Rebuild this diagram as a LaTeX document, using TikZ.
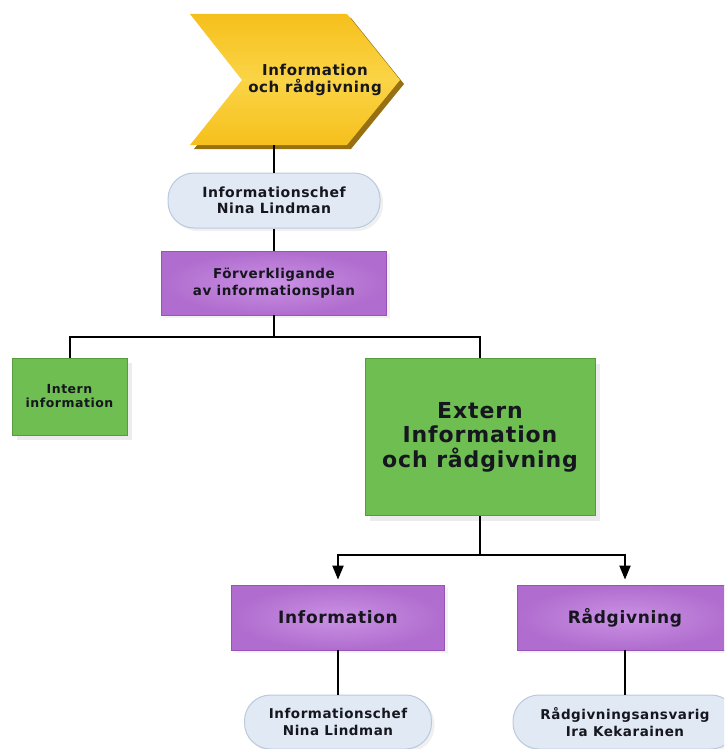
\documentclass[tikz,border=0pt]{standalone}
\usepackage{fontspec}
\setmainfont{DejaVu Sans}[LetterSpace=4]
\usetikzlibrary{arrows.meta,shadows}
\definecolor{gold}{RGB}{246,192,28}
\definecolor{goldlight}{RGB}{250,212,70}
\definecolor{golddark}{RGB}{150,112,18}
\definecolor{ovalfill}{RGB}{224,233,244}
\definecolor{ovalline}{RGB}{186,202,222}
\definecolor{lilac}{RGB}{176,108,206}
\definecolor{lilaclight}{RGB}{202,146,228}
\definecolor{lilacline}{RGB}{150,84,184}
\definecolor{leaf}{RGB}{110,190,82}
\definecolor{leafline}{RGB}{84,156,60}
\definecolor{txt}{RGB}{22,22,30}
\begin{document}
\begin{tikzpicture}[x=1pt,y=-1pt,
  every node/.style={font=\bfseries,text=txt,align=center,inner sep=0pt},
  person/.style={draw=ovalline,line width=1pt,fill=ovalfill,rounded corners=26pt,
    drop shadow={opacity=0.12,shadow xshift=3pt,shadow yshift=-3pt}},
  task/.style={draw=lilacline,line width=0.8pt,inner color=lilaclight,outer color=lilac,
    drop shadow={opacity=0.1,shadow xshift=3pt,shadow yshift=-3pt}},
  area/.style={draw=leafline,line width=0.8pt,fill=leaf,
    drop shadow={opacity=0.15,shadow xshift=5pt,shadow yshift=-5pt}},
  link/.style={line width=2pt,black},
  arr/.style={link,-{Triangle[length=14pt,width=11pt]},shorten >=5pt}]
\useasboundingbox (0,0) rectangle (724,749);
\clip (0,0) rectangle (724,749);
% chevron
\fill[golddark] (194,18) -- (351,18) -- (404,84) -- (351,149) -- (194,149) -- (246,84) -- cycle;
\shade[top color=gold,bottom color=gold,middle color=goldlight]
  (190,14) -- (347,14) -- (400,80) -- (347,145) -- (190,145) -- (242,80) -- cycle;
\node[font=\bfseries\fontsize{15}{17}\selectfont] (top) at (315,80) {Information\\och rådgivning};
\coordinate (chevbot) at (274,145);
% boxes
\node[person,minimum width=212pt,minimum height=55pt,font=\bfseries\fontsize{14}{16.5}\selectfont]
  (nina1) at (274,200.5) {Informationschef\\Nina Lindman};
\node[task,minimum width=225pt,minimum height=64pt,font=\bfseries\fontsize{13.5}{17}\selectfont]
  (plan) at (274,283) {Förverkligande\\av informationsplan};
\node[area,minimum width=115pt,minimum height=77pt,font=\bfseries\fontsize{12.5}{14}\selectfont]
  (intern) at (69.5,396.5) {Intern\\information};
\node[area,minimum width=230pt,minimum height=157pt,font=\bfseries\fontsize{22}{24.5}\selectfont]
  (extern) at (480,437) {Extern\\Information\\och rådgivning};
\node[task,minimum width=213pt,minimum height=65pt,font=\bfseries\fontsize{17}{20}\selectfont]
  (info) at (338,617.5) {Information};
\node[task,minimum width=216pt,minimum height=65pt,font=\bfseries\fontsize{17}{20}\selectfont]
  (radg) at (625,617.5) {Rådgivning};
\node[person,minimum width=187pt,minimum height=54pt,font=\bfseries\fontsize{13.5}{16.5}\selectfont]
  (nina2) at (338,722) {Informationschef\\Nina Lindman};
\node[person,minimum width=224pt,minimum height=54pt,font=\bfseries\fontsize{13.5}{16.5}\selectfont]
  (ira) at (625,722) {Rådgivningsansvarig\\Ira Kekarainen};
% connectors
\coordinate (bus1) at (274,337);
\coordinate (bus2) at (480,555);
\draw[link] (chevbot) -- (nina1);
\draw[link] (nina1) -- (plan);
\draw[link] (plan) -- (bus1);
\draw[link] (intern.north) |- (bus1) -| (extern.north);
\draw[link] (extern) -- (bus2);
\draw[arr] (bus2) -| (info.north);
\draw[arr] (bus2) -| (radg.north);
\draw[link] (info) -- (nina2);
\draw[link] (radg) -- (ira);
\end{tikzpicture}
\end{document}
